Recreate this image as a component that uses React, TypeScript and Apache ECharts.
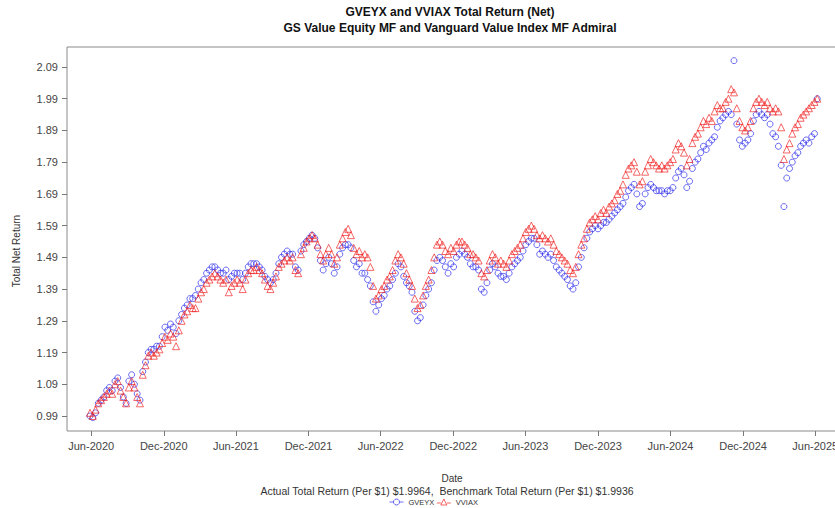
import React, { useEffect, useRef } from "react";
import * as echarts from "echarts";

// Weekly observation dates start here (one point per week)
const START_DATE = "2020-05-29";

// GVEYX (GS Value Equity MF) total net return, weekly
const gveyx = [
  0.99, 0.985, 1.0, 1.03, 1.04, 1.05, 1.07, 1.08, 1.07,
  1.1, 1.11, 1.08, 1.05, 1.03, 1.1, 1.12, 1.09, 1.06, 1.04,
  1.13, 1.16, 1.19, 1.2, 1.2, 1.21, 1.21, 1.24, 1.27, 1.26,
  1.28, 1.27, 1.25, 1.29, 1.31, 1.33, 1.34, 1.36, 1.36,
  1.37, 1.39, 1.41, 1.42, 1.44, 1.45, 1.46, 1.46, 1.45,
  1.44, 1.44, 1.45, 1.42, 1.43, 1.44, 1.44, 1.44, 1.42,
  1.44, 1.46, 1.47, 1.47, 1.47, 1.46, 1.45, 1.43, 1.42, 1.41, 1.42, 1.44,
  1.47, 1.49, 1.5, 1.51, 1.5, 1.5, 1.46, 1.45, 1.51, 1.53, 1.54, 1.55,
  1.56, 1.55, 1.52, 1.48, 1.45, 1.47, 1.49, 1.47, 1.44, 1.46,
  1.5, 1.52, 1.53, 1.53, 1.52, 1.48, 1.46, 1.47, 1.44, 1.44, 1.42, 1.4,
  1.35, 1.32, 1.34, 1.36, 1.37, 1.39, 1.4, 1.42, 1.44, 1.47, 1.46,
  1.43, 1.41, 1.4, 1.38, 1.32, 1.29, 1.3, 1.34, 1.37, 1.39, 1.41, 1.45,
  1.48, 1.49, 1.48, 1.46, 1.44, 1.47, 1.46, 1.49, 1.5, 1.51, 1.5, 1.49, 1.47,
  1.46, 1.46, 1.45, 1.39, 1.38, 1.41, 1.45, 1.47, 1.46, 1.44, 1.43, 1.43, 1.42, 1.44,
  1.46, 1.47, 1.48, 1.49, 1.51, 1.53, 1.54, 1.55, 1.55, 1.53, 1.5, 1.51, 1.5, 1.49, 1.5, 1.48, 1.46,
  1.45, 1.44, 1.43, 1.42, 1.4, 1.39, 1.41, 1.46, 1.49, 1.52, 1.55,
  1.57, 1.58, 1.59, 1.58, 1.59, 1.6, 1.6, 1.61, 1.62, 1.63, 1.64, 1.65, 1.66,
  1.68, 1.7, 1.71, 1.72, 1.69, 1.65, 1.66, 1.69, 1.71, 1.72, 1.71, 1.7,
  1.7, 1.7, 1.69, 1.7, 1.7, 1.71, 1.74, 1.76, 1.77, 1.75, 1.71, 1.73,
  1.77, 1.79, 1.8, 1.82, 1.84, 1.83, 1.85, 1.86, 1.87, 1.9, 1.92, 1.93, 1.94, 1.95,
  1.94, 2.11, 1.91, 1.86, 1.84, 1.85, 1.86, 1.88, 1.92, 1.94, 1.95, 1.94, 1.93, 1.94,
  1.91, 1.88, 1.87, 1.84, 1.78, 1.65, 1.74, 1.77,
  1.79, 1.81, 1.82, 1.84, 1.85, 1.86, 1.85, 1.87, 1.88, 1.99,
];

// VVIAX (Vanguard Value Index MF Admiral) total net return, weekly
const vviax = [
  1.0, 0.99, 1.01, 1.03, 1.04, 1.05, 1.06, 1.07, 1.06,
  1.09, 1.1, 1.07, 1.05, 1.03, 1.08, 1.1, 1.08, 1.05, 1.03,
  1.12, 1.15, 1.18, 1.19, 1.18, 1.19, 1.2, 1.22, 1.24, 1.23,
  1.25, 1.24, 1.21, 1.26, 1.29, 1.31, 1.32, 1.34, 1.33,
  1.33, 1.36, 1.38, 1.39, 1.41, 1.42, 1.43, 1.44, 1.43,
  1.42, 1.41, 1.42, 1.38, 1.4, 1.41, 1.42, 1.41, 1.39,
  1.42, 1.44, 1.45, 1.45, 1.46, 1.45, 1.44, 1.42, 1.4, 1.39, 1.41, 1.43,
  1.46, 1.47, 1.48, 1.49, 1.48, 1.49, 1.45, 1.44, 1.5, 1.52, 1.54, 1.55,
  1.56, 1.55, 1.53, 1.5, 1.48, 1.5, 1.52, 1.5, 1.47, 1.49,
  1.53, 1.55, 1.57, 1.58, 1.56, 1.52, 1.5, 1.51, 1.49, 1.5, 1.49, 1.46,
  1.4, 1.36, 1.37, 1.39, 1.4, 1.42, 1.43, 1.45, 1.48, 1.5, 1.49,
  1.47, 1.44, 1.42, 1.4, 1.36, 1.33, 1.34, 1.37, 1.4, 1.42, 1.45, 1.49,
  1.53, 1.54, 1.53, 1.51, 1.5, 1.52, 1.51, 1.53, 1.54, 1.54, 1.53, 1.52, 1.5,
  1.5, 1.49, 1.48, 1.44, 1.43, 1.45, 1.48, 1.5, 1.49, 1.47, 1.48, 1.47, 1.46, 1.48,
  1.5, 1.51, 1.52, 1.53, 1.55, 1.57, 1.58, 1.59, 1.58, 1.56, 1.55, 1.56, 1.55, 1.54, 1.55, 1.53, 1.51,
  1.5, 1.49, 1.48, 1.47, 1.45, 1.44, 1.46, 1.5, 1.53, 1.55, 1.58,
  1.6, 1.61, 1.62, 1.61, 1.63, 1.64, 1.63, 1.65, 1.66, 1.67, 1.69, 1.7, 1.72,
  1.75, 1.77, 1.78, 1.79, 1.76, 1.72, 1.73, 1.76, 1.78, 1.8, 1.79, 1.78,
  1.77, 1.78, 1.77, 1.78, 1.79, 1.8, 1.83, 1.85, 1.84, 1.82, 1.78, 1.8,
  1.85, 1.87, 1.88, 1.9, 1.92, 1.91, 1.93, 1.92, 1.95, 1.97, 1.96, 1.96, 1.98, 1.99,
  2.02, 2.01, 1.96, 1.92, 1.9, 1.89, 1.9, 1.92, 1.96, 1.98, 1.99, 1.98, 1.97, 1.98,
  1.96, 1.95, 1.96, 1.95, 1.9, 1.8, 1.83, 1.85,
  1.88, 1.9, 1.91, 1.93, 1.94, 1.95, 1.96, 1.97, 1.98, 1.99,
];

const xTickDates = [
  "2020-06-01", "2020-12-01", "2021-06-01", "2021-12-01", "2022-06-01", "2022-12-01",
  "2023-06-01", "2023-12-01", "2024-06-01", "2024-12-01", "2025-06-01",
];
const xTickLabels = [
  "Jun-2020", "Dec-2020", "Jun-2021", "Dec-2021", "Jun-2022", "Dec-2022",
  "Jun-2023", "Dec-2023", "Jun-2024", "Dec-2024", "Jun-2025",
];
const yTicks = [0.99, 1.09, 1.19, 1.29, 1.39, 1.49, 1.59, 1.69, 1.79, 1.89, 1.99, 2.09];

const BLUE = "rgba(40,40,235,0.85)";
const RED = "rgba(240,30,30,0.85)";
const FONT = "Liberation Sans";

export default function App() {
  const ref = useRef<HTMLDivElement>(null);

  useEffect(() => {
    if (!ref.current) return;
    const chart = echarts.init(ref.current, null, { renderer: "svg" });
    const startTs = Date.parse(START_DATE + "T00:00:00Z");
    const week = 7 * 86400000;
    const toPoints = (arr: number[]) => arr.map((v, k) => [startTs + k * week, v]);
    const xTickTs = xTickDates.map((d) => Date.parse(d + "T00:00:00Z"));

    const circleIcon = "path://M0,3L4,3M10,3L14,3M7,0A3,3,0,1,1,6.99,0Z";
    const triIcon = "path://M0,4L4,4M10,4L14,4M7,0L10,6L4,6Z";

    chart.setOption({
      animation: false,
      backgroundColor: "#fff",
      textStyle: { fontFamily: FONT },
      grid: { left: 67, top: 47, width: 780, height: 384, show: true, borderColor: "#8a8a8a", borderWidth: 1 },
      xAxis: {
        type: "value",
        min: Date.UTC(2020, 3, 1),
        max: Date.UTC(2025, 7, 20),
        axisLine: { show: false },
        splitLine: { show: false },
        axisTick: { show: true, length: 5, lineStyle: { color: "#777" }, customValues: xTickTs },
        axisLabel: {
          customValues: xTickTs,
          margin: 9,
          color: "#444",
          fontSize: 11,
          fontFamily: FONT,
          formatter: (val: number) => {
            const i = xTickTs.findIndex((t) => Math.abs(t - val) < 3600000);
            return i >= 0 ? xTickLabels[i] : "";
          },
        },
      },
      yAxis: {
        type: "value",
        min: 0.9427,
        max: 2.153,
        axisLine: { show: false },
        splitLine: { show: false },
        axisTick: { show: true, length: 5, lineStyle: { color: "#777" }, customValues: yTicks },
        axisLabel: {
          customValues: yTicks,
          margin: 9,
          color: "#444",
          fontSize: 11,
          fontFamily: FONT,
          formatter: (v: number) => v.toFixed(2),
        },
      },
      legend: {
        left: 389,
        top: 498,
        itemWidth: 14,
        itemHeight: 6,
        itemGap: 2,
        padding: 0,
        textStyle: { fontSize: 7.5, color: "#333", fontFamily: FONT },
        data: [
          { name: "GVEYX", icon: circleIcon, itemStyle: { color: "transparent", borderColor: BLUE, borderWidth: 1 } },
          { name: "VVIAX", icon: triIcon, itemStyle: { color: "transparent", borderColor: RED, borderWidth: 1 } },
        ],
      },
      graphic: [
        {
          type: "text", x: 450, y: 12,
          style: { text: "GVEYX and VVIAX Total Return (Net)", textAlign: "center", textVerticalAlign: "middle", font: `bold 12px "${FONT}"`, fill: "#111" },
        },
        {
          type: "text", x: 450, y: 28,
          style: { text: "GS Value Equity MF and Vanguard Value Index MF Admiral", textAlign: "center", textVerticalAlign: "middle", font: `bold 12px "${FONT}"`, fill: "#111" },
        },
        {
          type: "text", x: 16, y: 251, rotation: Math.PI / 2,
          style: { text: "Total Net Return", textAlign: "center", textVerticalAlign: "middle", font: `10px "${FONT}"`, fill: "#333" },
        },
        {
          type: "text", x: 452, y: 478,
          style: { text: "Date", textAlign: "center", textVerticalAlign: "middle", font: `10px "${FONT}"`, fill: "#333" },
        },
        {
          type: "text", x: 447, y: 491,
          style: { text: "Actual Total Return (Per $1) $1.9964,  Benchmark Total Return (Per $1) $1.9936", textAlign: "center", textVerticalAlign: "middle", font: `10.5px "${FONT}"`, fill: "#333" },
        },
      ],
      series: [
        {
          name: "GVEYX",
          type: "scatter",
          symbol: "circle",
          symbolSize: 6,
          data: toPoints(gveyx),
          itemStyle: { color: "transparent", borderColor: BLUE, borderWidth: 1 },
        },
        {
          name: "VVIAX",
          type: "scatter",
          symbol: "triangle",
          symbolSize: 7,
          data: toPoints(vviax),
          itemStyle: { color: "transparent", borderColor: RED, borderWidth: 1 },
        },
      ],
    });
    return () => chart.dispose();
  }, []);

  return (
    <div style={{ position: "absolute", left: 0, top: 0, width: 835, height: 508, overflow: "hidden" }}>
      <div ref={ref} style={{ width: 852, height: 508 }} />
    </div>
  );
}
